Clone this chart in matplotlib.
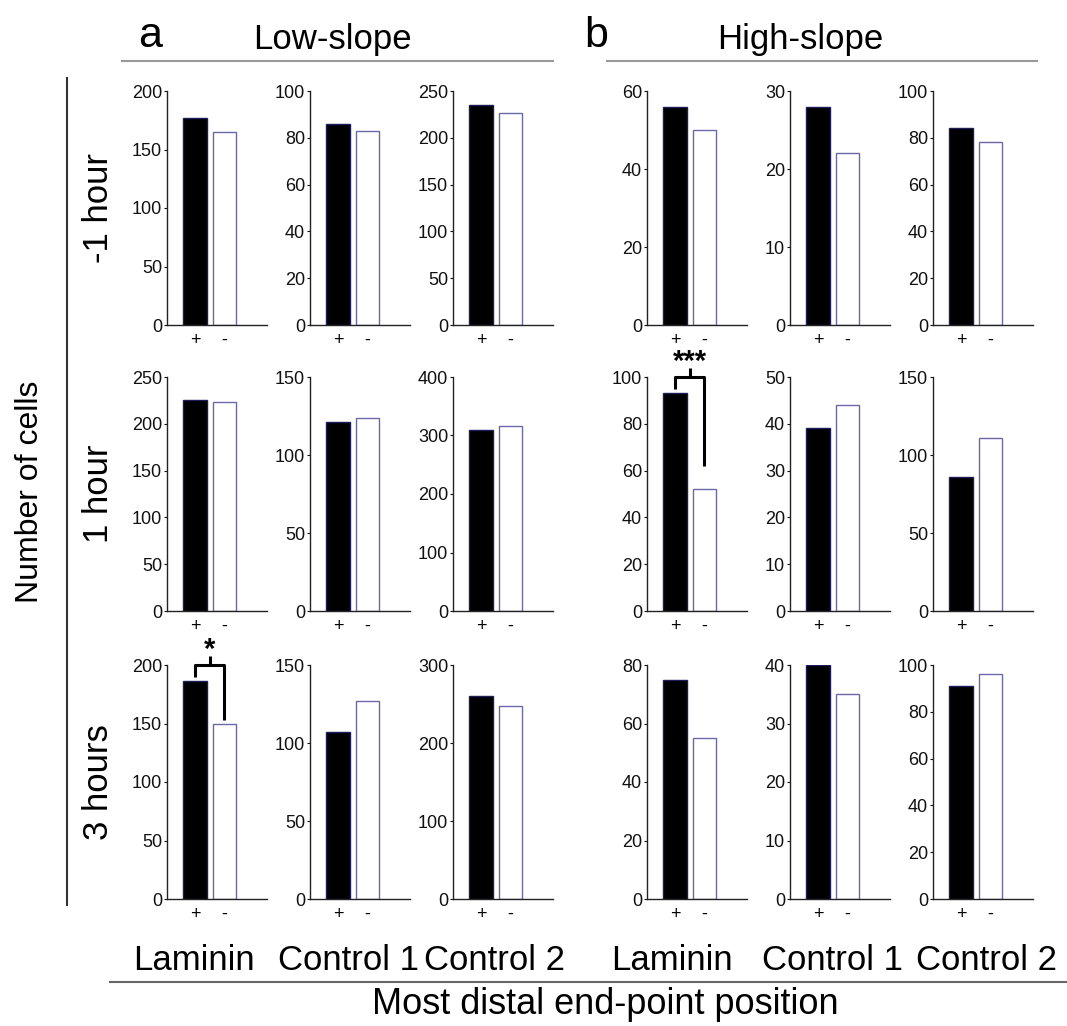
import numpy as np
import matplotlib
matplotlib.use('Agg')
from matplotlib import pyplot as plt
from matplotlib.lines import Line2D

plt.rcParams['font.family'] = ['Liberation Sans', 'DejaVu Sans']

W, H = 1067, 1026

# columns: Laminin, Control 1, Control 2 (low-slope), then the same for high-slope
column_names = ['Laminin', 'Control 1', 'Control 2', 'Laminin', 'Control 1', 'Control 2']
row_names = ['-1 hour', '1 hour', '3 hours']
bar_labels = ['+', '-']

plus_counts = [[177, 86, 235, 56, 28, 84],
               [225, 121, 310, 93, 39, 86],
               [186, 107, 260, 75, 40, 91]]
minus_counts = [[165, 83, 227, 50, 22, 78],
                [223, 124, 316, 52, 44, 111],
                [150, 127, 248, 55, 35, 96]]
y_max = [[200, 100, 250, 60, 30, 100],
         [250, 150, 400, 100, 50, 150],
         [200, 150, 300, 80, 40, 100]]
y_step = [[50, 20, 50, 20, 10, 20],
          [50, 50, 100, 20, 10, 50],
          [50, 50, 100, 20, 10, 20]]

# significance brackets: (row, col, stars, end of the "-" leg)
significance = [(1, 3, '***', 62), (2, 0, '*', 153)]

col_left = [167, 310, 453, 647, 790, 933]
col_label_x = [194, 348, 494, 672, 832, 987]
row_top = [91, 377, 665]
ax_w, ax_h = 100, 234


def fx(x):
    return x / W


def fy(y):
    return 1 - y / H


fig = plt.figure(figsize=(W / 100, H / 100), dpi=100)
fig.patch.set_facecolor('white')

axes = {}
for r in range(3):
    for c in range(6):
        ax = fig.add_axes([fx(col_left[c]), fy(row_top[r] + ax_h), fx(ax_w), ax_h / H])
        ax.bar([1], [plus_counts[r][c]], width=0.8, color='black', edgecolor='#1c1c5a', linewidth=1)
        ax.bar([2], [minus_counts[r][c]], width=0.8, color='white', edgecolor='#6a6aa8', linewidth=1)
        ax.set_xlim(0.04, 3.45)
        ax.set_ylim(0, y_max[r][c])
        ax.set_yticks(np.arange(0, y_max[r][c] + 1, y_step[r][c]))
        ax.set_xticks([1, 2])
        ax.set_xticklabels(bar_labels)
        for side in ['top', 'right']:
            ax.spines[side].set_visible(False)
        for side in ['left', 'bottom']:
            ax.spines[side].set_color('#222222')
            ax.spines[side].set_linewidth(1)
        ax.tick_params(axis='y', direction='out', length=2.5, width=0.8, labelsize=13, pad=1, colors='#111111')
        ax.tick_params(axis='x', length=0, labelsize=13, pad=5)
        axes[(r, c)] = ax

for r, c, stars, minus_end in significance:
    ax = axes[(r, c)]
    top = y_max[r][c]
    plus_end = plus_counts[r][c] + 0.02 * top
    kw = dict(color='black', linewidth=2.2, clip_on=False, solid_capstyle='butt')
    ax.plot([1, 1, 2, 2], [plus_end, top, top, minus_end], **kw)
    ax.plot([1.5, 1.5], [top, top * 1.04], **kw)
    ax.text(1.5, top * 1.065, stars, ha='center', va='center', fontsize=21, fontweight='bold')

# panel headers
fig.text(fx(150), fy(36), 'a', fontsize=31, ha='center', va='center')
fig.text(fx(332), fy(40), 'Low-slope', fontsize=25, ha='center', va='center')
fig.text(fx(596), fy(36), 'b', fontsize=31, ha='center', va='center')
fig.text(fx(800), fy(40), 'High-slope', fontsize=25, ha='center', va='center')
fig.add_artist(Line2D([fx(122), fx(553)], [fy(61), fy(61)], color='#999999', linewidth=1.5))
fig.add_artist(Line2D([fx(607), fx(1037)], [fy(61), fy(61)], color='#999999', linewidth=1.5))

# row labels
fig.add_artist(Line2D([fx(67), fx(67)], [fy(78), fy(905)], color='#333333', linewidth=1.5))
fig.text(fx(30), fy(492), 'Number of cells', fontsize=23, rotation=90, ha='center', va='center')
for r, name in enumerate(row_names):
    fig.text(fx(99), fy(row_top[r] + ax_h / 2), name, fontsize=25, rotation=90, ha='center', va='center')

# column labels
for c, name in enumerate(column_names):
    fig.text(fx(col_label_x[c]), fy(960), name, fontsize=25, ha='center', va='center')
fig.add_artist(Line2D([fx(110), fx(1067)], [fy(982), fy(982)], color='#666666', linewidth=1.5))
fig.text(fx(605), fy(1005), 'Most distal end-point position', fontsize=26, ha='center', va='center')

fig.savefig('out.png', dpi=100, facecolor='white')
